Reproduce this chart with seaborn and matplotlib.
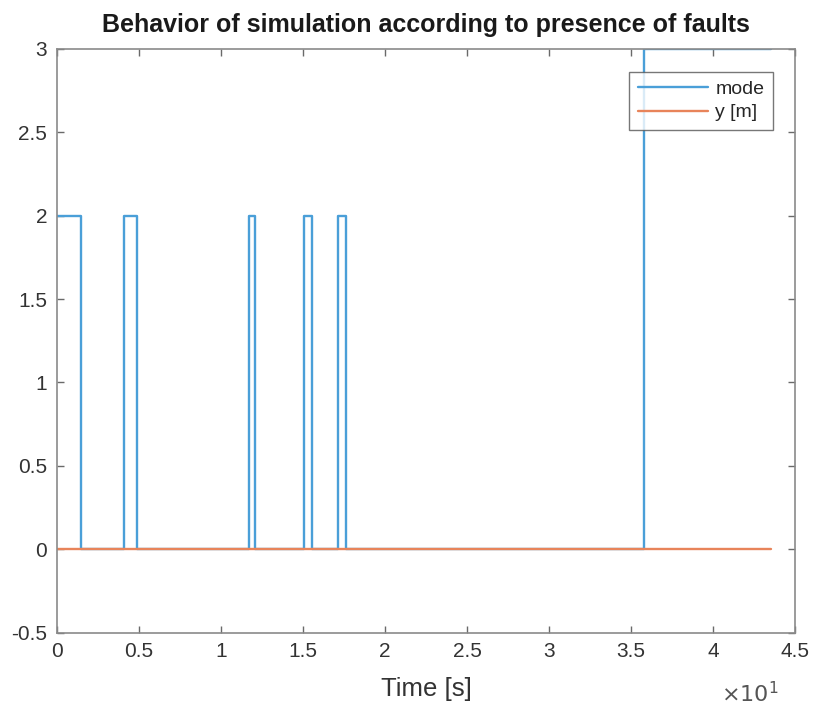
import matplotlib
matplotlib.use("Agg")
import matplotlib.pyplot as plt
import seaborn as sns
import pandas as pd

# Mode switching timeline (time in seconds, value held until next breakpoint)
mode_time = [0.0, 1.45, 4.1, 4.9, 11.7, 12.05, 15.05, 15.55, 17.1, 17.6, 35.75, 43.5]
mode_value = [2, 0, 2, 0, 2, 0, 2, 0, 2, 0, 3, 3]

# Position output stays at zero over the whole run
y_time = [0.0, 43.5]
y_value = [0.0, 0.0]

x_ticks = [0, 5, 10, 15, 20, 25, 30, 35, 40, 45]
x_tick_labels = ["0", "0.5", "1", "1.5", "2", "2.5", "3", "3.5", "4", "4.5"]
y_ticks = [-0.5, 0, 0.5, 1, 1.5, 2, 2.5, 3]
y_tick_labels = ["-0.5", "0", "0.5", "1", "1.5", "2", "2.5", "3"]

sns.set_theme(style="white")
plt.rcParams["font.family"] = ["Liberation Sans", "DejaVu Sans"]

fig = plt.figure(figsize=(8.14, 7.07), dpi=100)
ax = fig.add_axes([0.070, 0.105, 0.907, 0.826])

mode_df = pd.DataFrame({"t": mode_time, "v": mode_value})
y_df = pd.DataFrame({"t": y_time, "v": y_value})

sns.lineplot(data=mode_df, x="t", y="v", ax=ax, color="#4a9fd8", lw=1.7,
             drawstyle="steps-post", estimator=None, sort=False, label="mode")
sns.lineplot(data=y_df, x="t", y="v", ax=ax, color="#e8845a", lw=1.7,
             estimator=None, sort=False, label="y [m]")

ax.set_xlim(0, 45)
ax.set_ylim(-0.5, 3)
ax.set_xticks(x_ticks)
ax.set_xticklabels(x_tick_labels)
ax.set_yticks(y_ticks)
ax.set_yticklabels(y_tick_labels)

for side in ["top", "right", "bottom", "left"]:
    ax.spines[side].set_visible(True)
    ax.spines[side].set_color("#8a8a8a")
    ax.spines[side].set_linewidth(1.2)

ax.tick_params(axis="both", direction="in", length=5, width=1, color="#6a6a6a",
               labelsize=15, labelcolor="#333333", top=True, right=True,
               bottom=True, left=True, pad=7)

ax.set_xlabel("Time [s]", fontsize=18.5, color="#333333", labelpad=11)
ax.set_ylabel("")
ax.set_title("Behavior of simulation according to presence of faults",
             fontsize=18, fontweight="bold", color="#1a1a1a", pad=12)

ax.text(0.978, -0.085, r"$\times10^{1}$", transform=ax.transAxes, ha="right",
        va="top", fontsize=16, color="#555555")

leg = ax.legend(loc="upper right", bbox_to_anchor=(0.970, 0.961),
                borderaxespad=0, fontsize=14, frameon=True, fancybox=False,
                handlelength=3.6, handletextpad=0.4, labelspacing=0.3,
                borderpad=0.45)
leg.get_frame().set_edgecolor("#555555")
leg.get_frame().set_linewidth(1.0)

fig.savefig("out.png", dpi=100, facecolor="white")
